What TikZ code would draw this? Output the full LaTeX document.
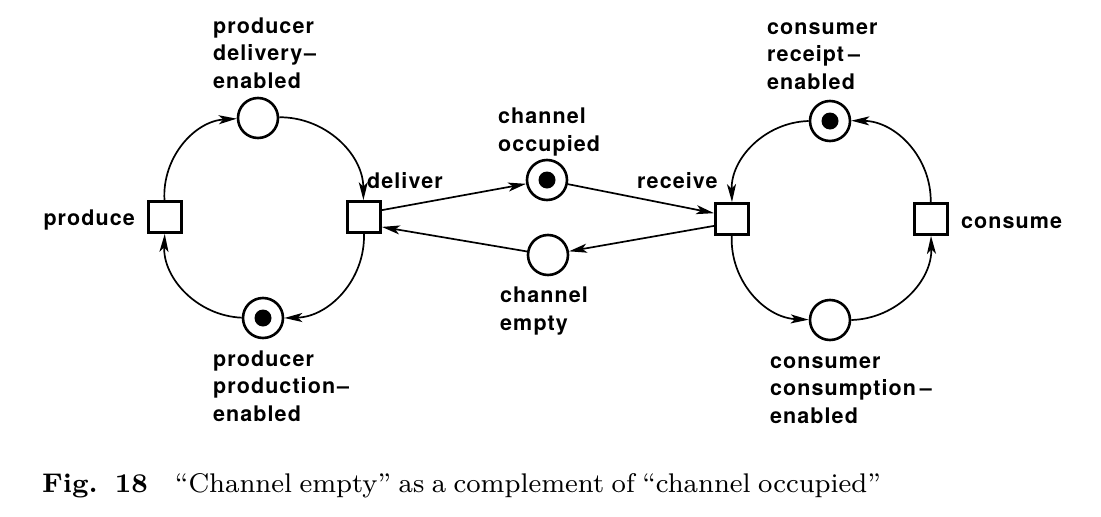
\documentclass[tikz,border=0pt]{standalone}
\usepackage{fontspec}
\newfontfamily\lblfont[LetterSpace=5]{TeX Gyre Heros}
\newfontfamily\capfont{lmroman8-regular}[Extension=.otf, BoldFont=lmroman8-bold]
\usetikzlibrary{arrows.meta}
\tikzset{
  place/.style={circle, draw, line width=2.6pt, minimum size=40pt, inner sep=0pt},
  trans/.style={rectangle, draw, line width=2.8pt, minimum width=33pt, minimum height=31pt, inner sep=0pt},
  token/.style={path picture={\fill (path picture bounding box.center) circle (8.5pt);}},
  arc/.style={line width=1.7pt, -{Stealth[length=18pt,width=9pt,inset=4.5pt]}},
  lbl/.style={font=\lblfont\bfseries\fontsize{21.5}{27.3}\selectfont, inner sep=0pt, align=left},
}
\begin{document}
\begin{tikzpicture}[x=1pt,y=-1pt]
\useasboundingbox (0,0) rectangle (1101,517);
% transitions
\node[trans] (produce) at (165,217) {};
\node[trans] (deliver) at (364,217) {};
\node[trans] (receive) at (732,219) {};
\node[trans] (consume) at (931,219) {};
% places
\node[place] (pde) at (258,118) {};
\node[place,token] (ppe) at (263,318) {};
\node[place,token] (co) at (547,180) {};
\node[place] (ce) at (548,255) {};
\node[place,token] (cre) at (830,121) {};
\node[place] (cce) at (830,320) {};
% labels (base = baseline of last line)
\node[lbl, anchor=base east] (lproduce) at (135,225) {produce};
\node[lbl, anchor=base west] (ldeliver) at (367,188) {deliver};
\node[lbl, anchor=base west] (lreceive) at (637,188) {receive};
\node[lbl, anchor=base west] (lconsume) at (961,228) {consume};
\node[lbl, anchor=base west] (lpde) at (213,88) {producer\\delivery\kern2pt–\\enabled};
\node[lbl, anchor=base west] (lppe) at (213,421) {producer\\production\kern2pt–\\enabled};
\node[lbl, anchor=base west] (lco) at (498,151) {channel\\occupied};
\node[lbl, anchor=base west] (lce) at (500,330) {channel\\empty};
\node[lbl, anchor=base west] (lcre) at (767,89) {consumer\\receipt\kern4pt–\\enabled};
\node[lbl, anchor=base west] (lcce) at (770,423) {consumer\\consumption\kern4pt–\\enabled};
% arcs
\draw[arc] (produce) to[bend left=45] (pde);
\draw[arc] (pde) to[bend left=45] (deliver);
\draw[arc] (deliver) to[bend left=45] (ppe);
\draw[arc] (ppe) to[bend left=45] (produce);
\draw[arc] (receive) to[bend right=45] (cce);
\draw[arc] (cce) to[bend right=45] (consume);
\draw[arc] (consume) to[bend right=45] (cre);
\draw[arc] (cre) to[bend right=45] (receive);
\draw[arc] (deliver.21) -- (co);
\draw[arc] (co) -- (receive.162);
\draw[arc] (receive.-159) -- (ce);
\draw[arc] (ce) -- (deliver.-29);
% caption
\node[anchor=base west, inner sep=0pt, font=\capfont\fontsize{27}{33}\selectfont] (caption) at (42,492)
  {\spaceskip=7.5pt plus 1pt\textbf{Fig.\hspace{17pt}18}\hspace{27pt}“Channel empty” as a complement of “channel occupied”};
\end{tikzpicture}
\end{document}
